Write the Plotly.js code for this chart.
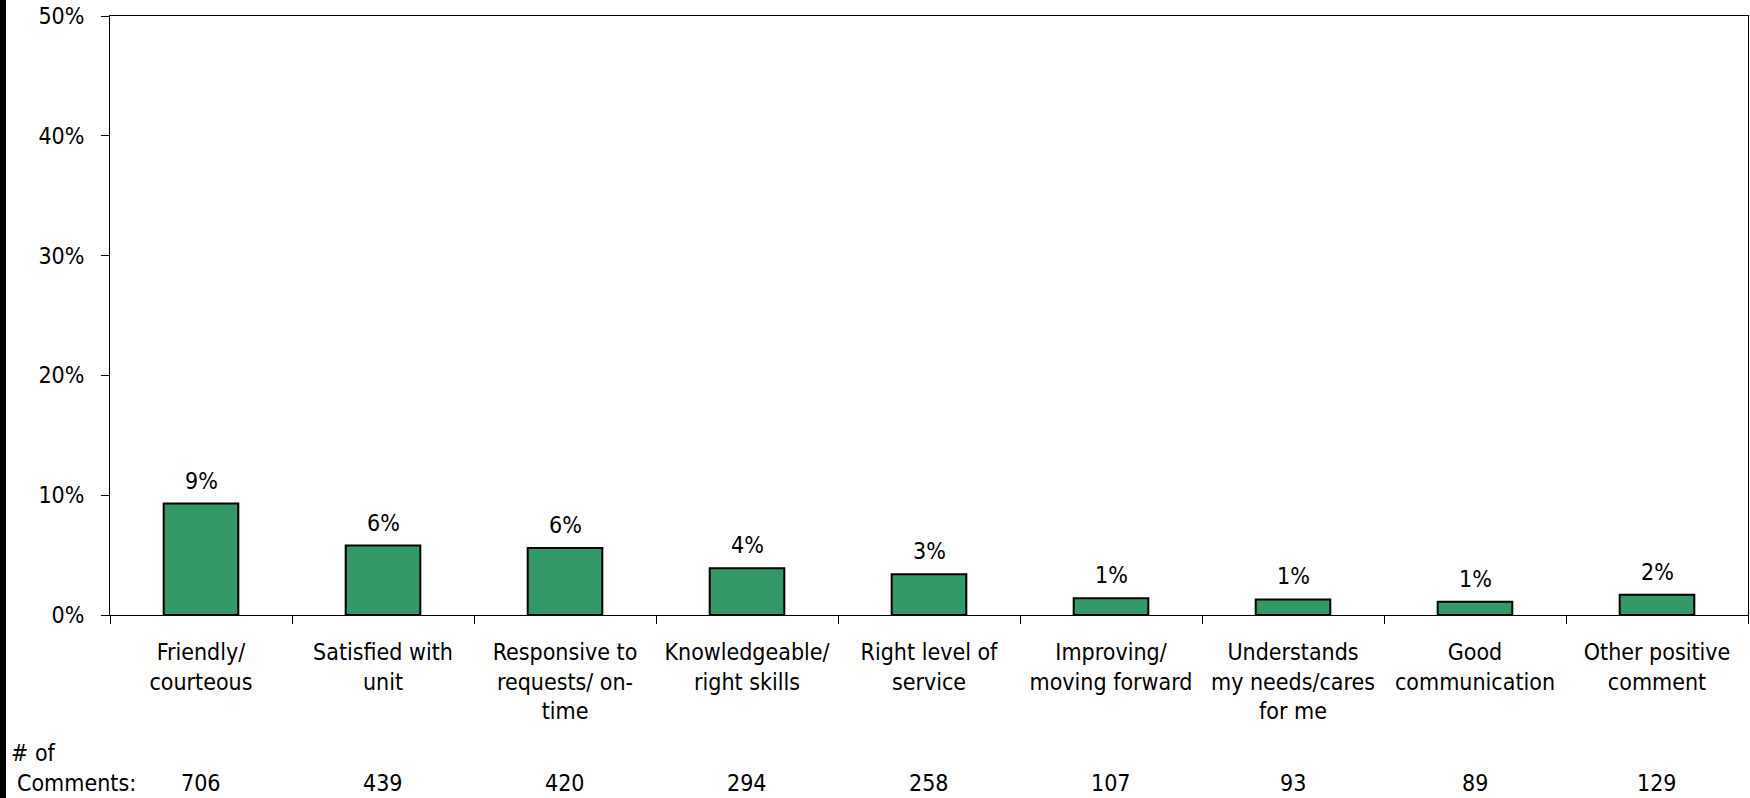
<!DOCTYPE html>
<html>
<head>
<meta charset="utf-8">
<script src="https://cdn.plot.ly/plotly-3.0.1.min.js"></script>
<style>
  html, body { margin: 0; padding: 0; background: #ffffff; }
  #chart { width: 1750px; height: 798px; }
</style>
</head>
<body>
<div id="chart"></div>
<script>
// Positive comment themes
const categories = [
  "Friendly/<br>courteous",
  "Satisfied with<br>unit",
  "Responsive to<br>requests/ on-<br>time",
  "Knowledgeable/<br>right skills",
  "Right level of<br>service",
  "Improving/<br>moving forward",
  "Understands<br>my needs/cares<br>for me",
  "Good<br>communication",
  "Other positive<br>comment"
];

// Share of all comments (%)
const sharePct = [9.3, 5.8, 5.6, 3.9, 3.4, 1.4, 1.3, 1.1, 1.7];

// Number of comments per theme
const commentCounts = [706, 439, 420, 294, 258, 107, 93, 89, 129];

const yTickVals = [0, 10, 20, 30, 40, 50];

// Page geometry
const W = 1750, H = 798;
const ML = 110, MR = 2, MT = 16, MB = 183;
const PW = W - ML - MR, PH = H - MT - MB;
const px2x = p => (p - ML) / PW;          // page x pixel -> paper x
const py2y = p => (H - MB - p) / PH;      // page y pixel -> paper y

const FONT = "Tahoma, 'DejaVu Sans Condensed', 'DejaVu Sans', sans-serif";
const FS = 23;

const xIdx = categories.map((_, i) => i);

const bars = {
  type: 'bar',
  x: xIdx,
  y: sharePct,
  marker: { color: '#339966', line: { color: '#000000', width: 2 } },
  hoverinfo: 'skip'
};

const annotations = [];

// Value labels above each bar
sharePct.forEach((v, i) => {
  annotations.push({
    xref: 'x', yref: 'y', x: i, y: v,
    text: v.toFixed(0) + '%',
    showarrow: false, xanchor: 'center', yanchor: 'bottom', yshift: 8,
    font: { family: FONT, size: FS, color: '#000' }
  });
});

// Comment counts row under the axis
commentCounts.forEach((c, i) => {
  annotations.push({
    xref: 'x', yref: 'paper', x: i, y: py2y(783),
    text: String(c), showarrow: false, xanchor: 'center', yanchor: 'middle',
    font: { family: FONT, size: FS, color: '#000' }
  });
});

annotations.push({
  xref: 'paper', yref: 'paper', x: px2x(9), y: py2y(753),
  text: '# of', showarrow: false, xanchor: 'left', yanchor: 'middle',
  font: { family: FONT, size: FS, color: '#000' }
});
annotations.push({
  xref: 'paper', yref: 'paper', x: px2x(15), y: py2y(783),
  text: 'Comments:', showarrow: false, xanchor: 'left', yanchor: 'middle',
  font: { family: FONT, size: FS, color: '#000' }
});

const layout = {
  width: W, height: H,
  margin: { l: ML, r: MR, t: MT, b: MB, pad: 0 },
  paper_bgcolor: '#ffffff', plot_bgcolor: '#ffffff',
  showlegend: false,
  bargap: 0.59,
  font: { family: FONT, size: FS, color: '#000' },
  xaxis: {
    type: 'category',
    tickmode: 'array', tickvals: xIdx, ticktext: categories,
    tickson: 'boundaries',
    ticks: 'outside', ticklen: 8, tickcolor: '#000', tickwidth: 1,
    showline: true, linecolor: '#000', linewidth: 1, mirror: true,
    showgrid: false, zeroline: false,
    ticklabelstandoff: 16,
    tickfont: { family: FONT, size: FS, color: '#000' },
    range: [-0.5, categories.length - 0.5],
    fixedrange: true
  },
  yaxis: {
    range: [0, 50],
    tickmode: 'array', tickvals: yTickVals,
    ticktext: yTickVals.map(v => v + '%'),
    ticks: 'outside', ticklen: 8, tickcolor: '#000', tickwidth: 1,
    showline: true, linecolor: '#000', linewidth: 1, mirror: true,
    showgrid: false, zeroline: false,
    ticklabelstandoff: 12,
    tickfont: { family: FONT, size: FS, color: '#000' },
    fixedrange: true
  },
  shapes: [{
    type: 'rect', xref: 'paper', yref: 'paper', layer: 'above',
    x0: px2x(0), x1: px2x(6), y0: py2y(H), y1: py2y(0),
    fillcolor: '#000000', line: { width: 0 }
  }],
  annotations: annotations
};

Plotly.newPlot('chart', [bars], layout, { staticPlot: true, displayModeBar: false });
</script>
</body>
</html>
